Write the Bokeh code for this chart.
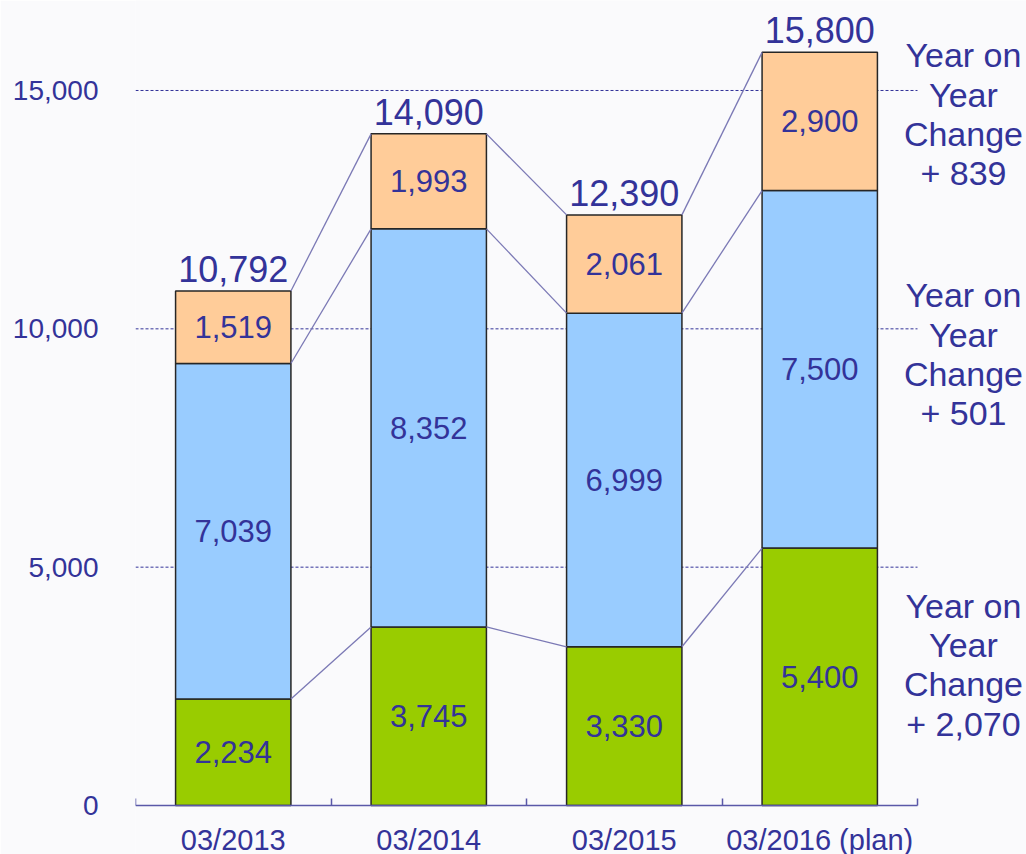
from bokeh.plotting import figure
from bokeh.models import (Range1d, FixedTicker, NumeralTickFormatter, Label,
                          ColumnDataSource)
from bokeh.core.properties import value
from bokeh.embed import file_html
from bokeh.resources import INLINE

# ---- data ----
categories = ["03/2013", "03/2014", "03/2015", "03/2016 (plan)"]
green = [2234, 3745, 3330, 5400]
blue = [7039, 8352, 6999, 7500]
orange = [1519, 1993, 2061, 2900]
y_ticks = [0, 5000, 10000, 15000]

FONT = "Liberation Sans"
NAVY = "#333399"
BG = "#fafafc"
BAR_W = 0.59

n = len(categories)
xs = [i + 0.5 for i in range(n)]
c1 = list(green)
c2 = [g + b for g, b in zip(green, blue)]
c3 = [g + b + o for g, b, o in zip(green, blue, orange)]

src = ColumnDataSource(dict(x=xs, green=green, blue=blue, orange=orange))

W, H = 1026, 854
p = figure(width=W, height=H, output_backend="svg", toolbar_location=None,
           x_range=Range1d(0, (W - 135) / 195.5),
           y_range=Range1d(-(H - 805) / 0.047667, 805 / 0.047667),
           min_border_left=135, min_border_right=0, min_border_top=0,
           min_border_bottom=0)
p.background_fill_color = BG
p.border_fill_color = BG
p.outline_line_color = None
p.grid.visible = False

# dashed grid lines over the category span
gy = [t for t in y_ticks if t > 0]
p.segment(x0=[0] * len(gy), y0=gy, x1=[n] * len(gy), y1=gy,
          line_color=NAVY, line_dash="3 2", line_width=1)

# bars
p.vbar_stack(["green", "blue", "orange"], x="x", width=BAR_W, source=src,
             color=["#99cc00", "#99ccff", "#ffcc99"],
             line_color="#262626", line_width=1.5)

# connecting lines between bars
for cum in (c1, c2, c3):
    p.segment(x0=[x + BAR_W / 2 for x in xs[:-1]], y0=cum[:-1],
              x1=[x - BAR_W / 2 for x in xs[1:]], y1=cum[1:],
              line_color="#7b79b5", line_width=1.3)

# segment labels
lx, ly, lt = [], [], []
for i in range(n):
    for lo, hi, v in ((0, c1[i], green[i]), (c1[i], c2[i], blue[i]),
                      (c2[i], c3[i], orange[i])):
        lx.append(xs[i]); ly.append((lo + hi) / 2); lt.append(f"{v:,}")
p.text(x=lx, y=ly, text=lt, text_align="center", text_baseline="middle",
       text_font=value(FONT), text_font_size="31px", text_color=NAVY)

# totals
p.text(x=xs, y=c3, text=[f"{t:,}" for t in c3], text_align="center",
       text_baseline="alphabetic", y_offset=-22,
       text_font=value(FONT), text_font_size="36px", text_color=NAVY)

# year on year change annotations
for lo, hi, series, off in ((c2[-1], c3[-1], orange, 7),
                            (c1[-1], c2[-1], blue, 15),
                            (0, c1[-1], green, 12)):
    diff = series[-1] - series[-2]
    p.add_layout(Label(x=n + 0.235, y=(lo + hi) / 2, y_offset=off,
                       text=f"Year on\nYear\nChange\n+ {diff:,}",
                       text_align="center", text_baseline="middle",
                       text_font=FONT, text_font_size="34px",
                       text_color=NAVY, text_line_height=1.035))

# x axis (drawn at y = 0)
xa = p.xaxis[0]
xa.fixed_location = 0
xa.bounds = (0, n)
xa.ticker = FixedTicker(ticks=xs, minor_ticks=list(range(n + 1)))
xa.major_label_overrides = {x: c for x, c in zip(xs, categories)}
xa.major_tick_line_color = None
xa.minor_tick_in = 7
xa.minor_tick_out = 0
xa.minor_tick_line_color = "#5a58a8"
xa.minor_tick_line_width = 1.5
xa.axis_line_color = "#5a58a8"
xa.axis_line_width = 1.5
xa.major_label_text_font = FONT
xa.major_label_text_font_size = "29px"
xa.major_label_text_color = NAVY
xa.major_label_standoff = 12

# y axis
ya = p.yaxis[0]
ya.ticker = FixedTicker(ticks=y_ticks)
ya.formatter = NumeralTickFormatter(format="0,0")
ya.axis_line_color = None
ya.major_tick_line_color = None
ya.minor_tick_line_color = None
ya.major_label_standoff = 31
ya.major_label_text_font = FONT
ya.major_label_text_font_size = "28px"
ya.major_label_text_color = NAVY

open("out.html", "w").write(file_html(p, INLINE))
